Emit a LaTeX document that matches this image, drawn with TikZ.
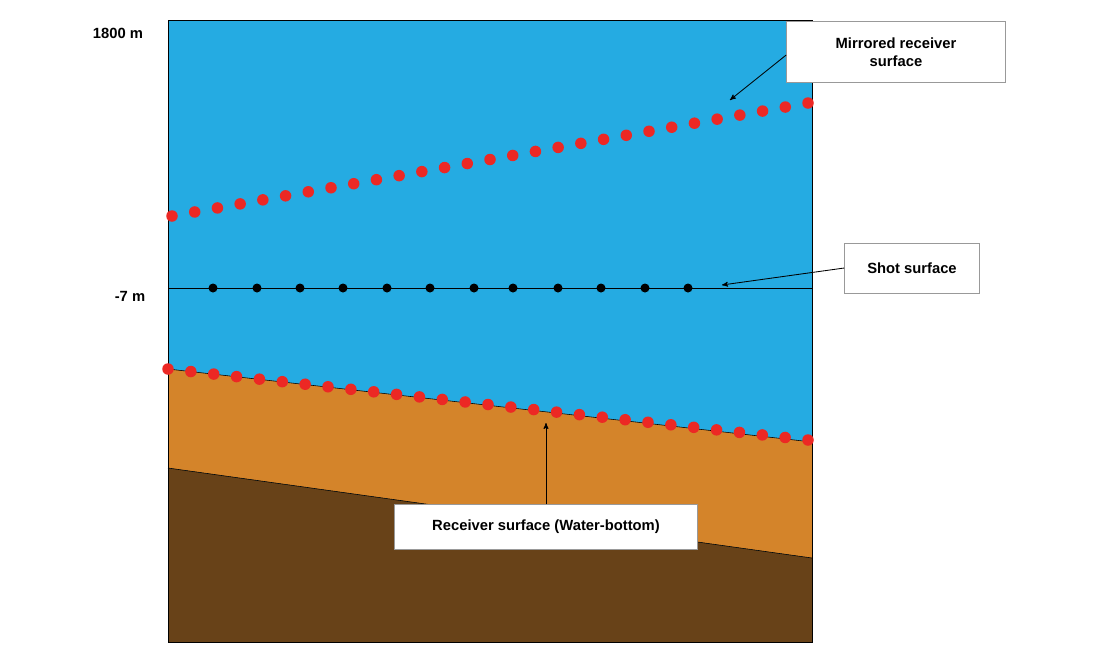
\documentclass[tikz,border=0pt]{standalone}
\usepackage{fontspec}
\setmainfont{Liberation Sans}
\usetikzlibrary{arrows}
\definecolor{water}{RGB}{37,171,226}
\definecolor{sediment}{RGB}{212,132,42}
\definecolor{rock}{RGB}{104,66,24}
\definecolor{dotred}{RGB}{236,40,36}
\begin{document}
\begin{tikzpicture}[x=0.025cm,y=-0.025cm,
  every node/.style={font=\bfseries\fontsize{10.5}{12.5}\selectfont},
  callout/.style={draw=black!40,fill=white,align=center,inner sep=5pt},
  reddot/.style={circle,fill=dotred,inner sep=0pt,minimum size=11.5*0.025cm},
  blackdot/.style={circle,fill=black,inner sep=0pt,minimum size=9*0.025cm},
  to/.style={->,>=stealth',semithick}]

  % Frame and layers
  \useasboundingbox (0,0) rectangle (1100,660);
  \fill[water] (168,20) rectangle (812,642);
  \fill[sediment] (168,369) -- (812,442) -- (812,558) -- (168,468) -- cycle;
  \fill[rock] (168,468) -- (812,558) -- (812,642) -- (168,642) -- cycle;
  \draw (168,468) -- (812,558);
  \draw (168,369) -- (812,442);
  \draw (168,20) rectangle (812,642);
  \draw (168,288) -- (812,288);

  % Depth labels
  \node (top) at (118,33) {1800 m};
  \node (shotdepth) at (130,296) {-7 m};

  % Mirrored receiver dots
  \foreach \i in {0,...,28}
    \node[reddot] (mir\i) at ({172+\i*(636/28)},{216-\i*(113/28)}) {};
  % Receiver dots on the water bottom
  \foreach \i in {0,...,28}
    \node[reddot] (rec\i) at ({168+\i*(640/28)},{369+\i*(71/28)}) {};
  % Shot dots
  \foreach \x [count=\i] in {213,257,300,343,387,430,474,513,558,601,645,688}
    \node[blackdot] (shot\i) at (\x,288) {};

  % Callouts
  \node[callout,minimum width=219*0.025cm,minimum height=61*0.025cm] (mirrored) at (896,52) {Mirrored receiver\\surface};
  \node[callout,minimum width=135*0.025cm,minimum height=50*0.025cm] (shotlabel) at (912,268) {Shot surface};
  \node[callout,minimum width=303*0.025cm,minimum height=45*0.025cm] (reclabel) at (546,527) {Receiver surface (Water-bottom)};
  \coordinate (mirtip) at (730,100);
  \coordinate (shottip) at (722,285);
  \coordinate (rectip) at (546,423);

  \draw[to] (mirrored.west|-0,55) -- (mirtip);
  \draw[to] (shotlabel.west) -- (shottip);
  \draw[to] (reclabel.north) -- (rectip);
\end{tikzpicture}
\end{document}
